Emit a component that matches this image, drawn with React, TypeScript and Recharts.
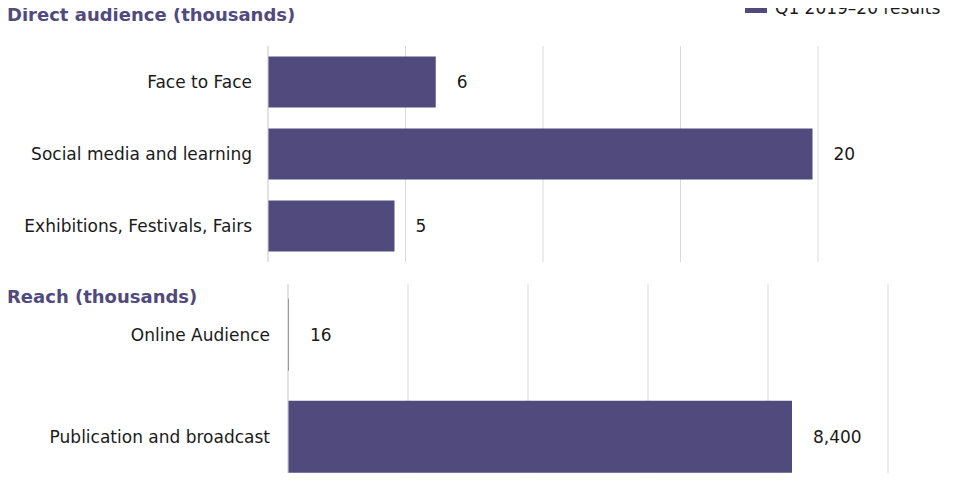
import { Bar, BarChart, CartesianGrid, LabelList, XAxis, YAxis } from "recharts";

const directCategories = ["Face to Face", "Social media and learning", "Exhibitions, Festivals, Fairs"];
const directValues = [6.1, 19.8, 4.6];
const directTicks = [0, 5, 10, 15, 20];

const reachCategories = ["Online Audience", "Publication and broadcast"];
const reachValues = [16, 8400];
const reachTicks = [0, 2000, 4000, 6000, 8000, 10000];

const PURPLE = "#514a7d";
const GRID = "#d9d9d9";
const FONT = "'DejaVu Sans', sans-serif";

const directData = directCategories.map((name, i) => ({ name, value: directValues[i] }));
const reachData = reachCategories.map((name, i) => ({ name, value: reachValues[i] }));

const tickStyle = { fill: "#1a1a1a", fontSize: 17, fontFamily: FONT };
const labelStyle = { fill: "#1a1a1a", fontSize: 17, fontFamily: FONT };

const fmtDirect = (v: any) => Math.round(Number(v)).toString();
const fmtReach = (v: any) => Number(v).toLocaleString("en-US");

// hidden x ticks, but still give the grid its positions
const NoTick = () => <g />;

const titleStyle: React.CSSProperties = {
  position: "absolute",
  left: 7,
  fontSize: 18,
  fontWeight: 700,
  color: PURPLE,
  whiteSpace: "nowrap",
};

export default function App() {
  return (
    <div
      style={{
        position: "relative",
        width: 953,
        height: 481,
        margin: -8,
        overflow: "hidden",
        background: "#fff",
        fontFamily: FONT,
      }}
    >
      <div style={{ ...titleStyle, top: 4 }}>Direct audience (thousands)</div>

      {/* legend, cut by the top edge as in the original */}
      <div style={{ position: "absolute", left: 745, top: -9, width: 22, height: 22, background: PURPLE }} />
      <div
        style={{
          position: "absolute",
          left: 775,
          top: -2,
          fontSize: 17,
          color: "#1a1a1a",
          whiteSpace: "nowrap",
        }}
      >
        Q1 2019–20 results
      </div>

      <div style={{ position: "absolute", left: 0, top: 0 }}>
        <BarChart
          width={953}
          height={262}
          data={directData}
          layout="vertical"
          margin={{ top: 46, right: 135, bottom: 0, left: 0 }}
          barCategoryGap="14.5%"
        >
          <CartesianGrid horizontal={false} stroke={GRID} />
          <XAxis
            type="number"
            domain={[0, 20]}
            ticks={directTicks}
            height={0}
            tick={NoTick}
            axisLine={false}
            tickLine={false}
          />
          <YAxis
            type="category"
            dataKey="name"
            width={268}
            axisLine={{ stroke: GRID }}
            tickLine={false}
            tick={tickStyle}
            tickMargin={10}
          />
          <Bar dataKey="value" fill={PURPLE} isAnimationActive={false}>
            <LabelList
              dataKey="value"
              position="right"
              offset={21}
              formatter={fmtDirect}
              style={labelStyle}
            />
          </Bar>
        </BarChart>
      </div>

      <div style={{ ...titleStyle, top: 286 }}>Reach (thousands)</div>

      <div style={{ position: "absolute", left: 0, top: 270 }}>
        <BarChart
          width={953}
          height={218}
          data={reachData}
          layout="vertical"
          margin={{ top: 14, right: 65, bottom: 0, left: 0 }}
          barCategoryGap="14.5%"
        >
          <CartesianGrid horizontal={false} stroke={GRID} />
          <XAxis
            type="number"
            domain={[0, 10000]}
            ticks={reachTicks}
            height={0}
            tick={NoTick}
            axisLine={false}
            tickLine={false}
          />
          <YAxis
            type="category"
            dataKey="name"
            width={288}
            axisLine={{ stroke: GRID }}
            tickLine={false}
            tick={tickStyle}
            tickMargin={12}
          />
          <Bar dataKey="value" fill={PURPLE} isAnimationActive={false}>
            <LabelList
              dataKey="value"
              position="right"
              offset={21}
              formatter={fmtReach}
              style={labelStyle}
            />
          </Bar>
        </BarChart>
      </div>
    </div>
  );
}
